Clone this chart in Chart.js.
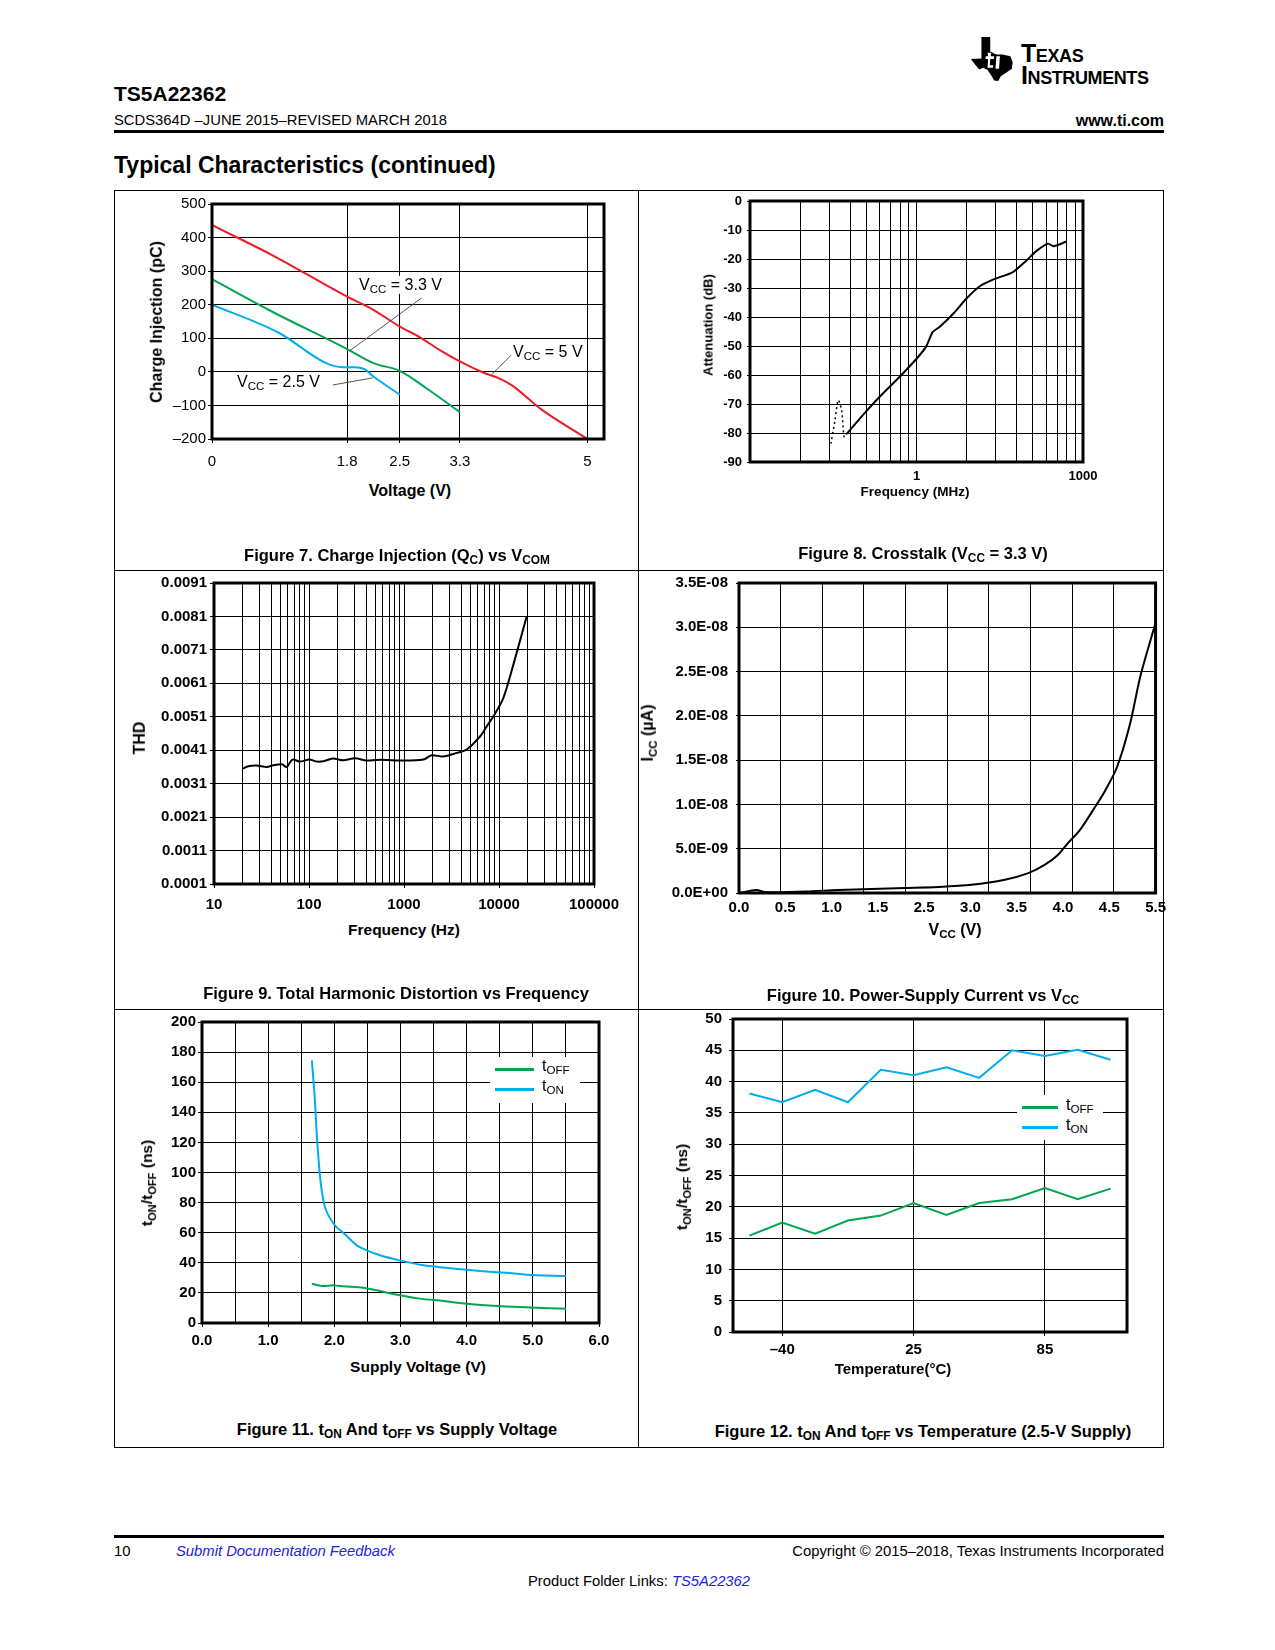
<!DOCTYPE html>
<html><head><meta charset="utf-8">
<script src="https://cdn.jsdelivr.net/npm/chart.js@4.4.1/dist/chart.umd.min.js"></script>
<style>
html,body{margin:0;padding:0;background:#fff}
body{width:1275px;height:1650px;position:relative;overflow:hidden;font-family:"Liberation Sans",Arial,Helvetica,sans-serif;color:#000}
.l{position:absolute;white-space:nowrap;transform:translateY(-50%);line-height:1.15}
.rt{position:absolute;white-space:nowrap;transform:translate(-100%,-50%);line-height:1.15}
.c{position:absolute;white-space:nowrap;transform:translate(-50%,-50%);line-height:1.15}
.v{position:absolute;white-space:nowrap;transform:translate(-50%,-50%) rotate(-90deg);line-height:1.15}
.b{font-weight:bold}
sub{font-size:72%;vertical-align:-0.32em;line-height:0}
canvas{position:absolute}
.ln{position:absolute;background:#000}
.lk{color:#2222dd;font-style:italic}
.top{z-index:5}
.wb{background:#fff;z-index:5}
.logo{font-size:25px;font-variant:small-caps;font-weight:bold;letter-spacing:-0.4px;font-family:"Liberation Sans",Arial,sans-serif}
</style></head><body>

<!-- header -->
<svg style="position:absolute;left:970px;top:36px" width="44" height="46" viewBox="0 0 100 100">
<path d="M26 0 L46 0 L46 33 L58 39 L74 40 L92 44 L97 58 L95 72 L82 81 L70 89 L64 100 L55 99 L48 87 L40 75 L30 70 L21 74 L12 63 L2 50 L26 49 Z" fill="#000"/>
<path d="M40 36 L48 36 L47 44 L55 44 L54 50 L46 50 L45 64 L53 64 L52 70 L40 70 L41 50 L35 50 L36 44 L41 44 Z M60 44 L68 44 L66 72 L58 72 Z M64 30 a5 5 0 1 0 0.1 0 Z" fill="#fff"/>
</svg>
<div class="l logo" style="left:1021px;top:53px">Texas</div>
<div class="l logo" style="left:1021px;top:75px">Instruments</div>
<div class="l b" style="left:114px;top:94px;font-size:21px">TS5A22362</div>
<div class="l" style="left:114px;top:121px;font-size:14.8px">SCDS364D –JUNE 2015–REVISED MARCH 2018</div>
<div class="rt b" style="left:1164px;top:121px;font-size:16px">www.ti.com</div>
<div class="ln" style="left:114px;top:130px;width:1050px;height:3px"></div>
<div class="l b" style="left:114px;top:165px;font-size:23px">Typical Characteristics (continued)</div>

<!-- page grid frame -->
<div class="ln" style="left:114px;top:190px;width:1050px;height:1px"></div>
<div class="ln" style="left:114px;top:1447px;width:1050px;height:1px"></div>
<div class="ln" style="left:114px;top:570px;width:1050px;height:1px"></div>
<div class="ln" style="left:114px;top:1009px;width:1050px;height:1px"></div>
<div class="ln" style="left:114px;top:190px;width:1px;height:1258px"></div>
<div class="ln" style="left:1163px;top:190px;width:1px;height:1258px"></div>
<div class="ln" style="left:638px;top:190px;width:1px;height:1258px"></div>

<canvas id="c7"></canvas><canvas id="c8"></canvas><canvas id="c9"></canvas>
<canvas id="c10"></canvas><canvas id="c11"></canvas><canvas id="c12"></canvas>

<!-- Figure 7 texts -->
<div class="v b" style="left:157px;top:322px;font-size:16px">Charge Injection (pC)</div>
<div class="c b" style="left:410px;top:491px;font-size:16px">Voltage (V)</div>
<div class="l wb" style="left:358px;top:285px;font-size:16px;padding:0 1px">V<sub>CC</sub> = 3.3 V</div>
<div class="l wb" style="left:512px;top:352px;font-size:16px;padding:0 1px">V<sub>CC</sub> = 5 V</div>
<div class="l wb" style="left:236px;top:382px;font-size:16px;padding:0 1px">V<sub>CC</sub> = 2.5 V</div>
<div class="c b" style="left:397px;top:555px;font-size:16.5px">Figure 7. Charge Injection (Q<sub>C</sub>) vs V<sub>COM</sub></div>

<!-- Figure 8 texts -->
<div class="v b" style="left:709px;top:325px;font-size:13px">Attenuation (dB)</div>
<div class="c b" style="left:915px;top:492px;font-size:13.5px">Frequency (MHz)</div>
<div class="c b" style="left:923px;top:553px;font-size:16.5px">Figure 8. Crosstalk (V<sub>CC</sub> = 3.3 V)</div>

<!-- Figure 9 texts -->
<div class="v b" style="left:140px;top:738px;font-size:16px">THD</div>
<div class="c b" style="left:404px;top:930px;font-size:15.5px">Frequency (Hz)</div>
<div class="c b" style="left:396px;top:993px;font-size:16.5px">Figure 9. Total Harmonic Distortion vs Frequency</div>

<!-- Figure 10 texts -->
<div class="v b" style="left:648px;top:733px;font-size:16px">I<sub>CC</sub> (µA)</div>
<div class="c b" style="left:955px;top:930px;font-size:16px">V<sub>CC</sub> (V)</div>
<div class="c b" style="left:923px;top:995px;font-size:16.5px">Figure 10. Power-Supply Current vs V<sub>CC</sub></div>

<!-- Figure 11 texts -->
<div class="v b" style="left:147px;top:1183px;font-size:15.5px">t<sub>ON</sub>/t<sub>OFF</sub> (ns)</div>
<div class="c b" style="left:418px;top:1367px;font-size:15.5px">Supply Voltage (V)</div>
<div class="c b" style="left:397px;top:1429px;font-size:16.5px">Figure 11. t<sub>ON</sub> And t<sub>OFF</sub> vs Supply Voltage</div>
<div class="wb" style="position:absolute;left:490px;top:1057px;width:90px;height:46px"></div>
<div class="ln top" style="left:495px;top:1068px;width:39px;height:2.5px;background:#00a651"></div>
<div class="ln top" style="left:495px;top:1088px;width:39px;height:2.5px;background:#00aeef"></div>
<div class="l top" style="left:542px;top:1066px;font-size:16px">t<sub>OFF</sub></div>
<div class="l top" style="left:542px;top:1086px;font-size:16px">t<sub>ON</sub></div>

<!-- Figure 12 texts -->
<div class="v b" style="left:682px;top:1187px;font-size:15.5px">t<sub>ON</sub>/t<sub>OFF</sub> (ns)</div>
<div class="c b" style="left:893px;top:1369px;font-size:15px">Temperature(°C)</div>
<div class="c b" style="left:923px;top:1431px;font-size:16.5px">Figure 12. t<sub>ON</sub> And t<sub>OFF</sub> vs Temperature (2.5-V Supply)</div>
<div class="wb" style="position:absolute;left:1017px;top:1095px;width:86px;height:45px"></div>
<div class="ln top" style="left:1022px;top:1106px;width:36px;height:2.5px;background:#00a651"></div>
<div class="ln top" style="left:1022px;top:1126px;width:36px;height:2.5px;background:#00aeef"></div>
<div class="l top" style="left:1066px;top:1105px;font-size:16px">t<sub>OFF</sub></div>
<div class="l top" style="left:1066px;top:1125px;font-size:16px">t<sub>ON</sub></div>

<!-- footer -->
<div class="ln" style="left:114px;top:1535px;width:1050px;height:3px"></div>
<div class="l" style="left:114px;top:1552px;font-size:14.8px">10</div>
<div class="l lk" style="left:176px;top:1552px;font-size:14.8px">Submit Documentation Feedback</div>
<div class="rt" style="left:1164px;top:1552px;font-size:14.8px">Copyright © 2015–2018, Texas Instruments Incorporated</div>
<div class="c" style="left:639px;top:1582px;font-size:14.8px">Product Folder Links: <span class="lk">TS5A22362</span></div>

<script>
// ---------- DATA ----------
// Figure 7: charge injection (pC) vs VCOM (V)
const qcXTicks = [0, 1.8, 2.5, 3.3, 5];
const qcYTicks = [-200, -100, 0, 100, 200, 300, 400, 500];
const qc5V  = [0, 0.80, 1.80, 2.11, 2.50, 2.77, 3.04, 3.30, 3.61, 3.83, 4.00, 4.38, 5.00];
const qc5Q  = [437, 348, 224, 190, 135, 103, 64, 31, -2, -20, -41, -111, -200];
const qc33V = [0, 0.75, 1.80, 2.15, 2.50, 2.85, 3.30];
const qc33Q = [276, 185, 68, 26, 3, -48, -120];
const qc25V = [0, 0.90, 1.52, 1.74, 1.90, 2.03, 2.15, 2.50];
const qc25Q = [200, 115, 26, 14, 14, 8, -14, -68];

// Figure 8: crosstalk (dB) vs frequency
const xtGrid = [0.1,0.2,0.3,0.4,0.5,0.6,0.7,0.8,0.9,1,2,3,4,5,6,7,8,9,10];
const xtTickVals = [1, 10];
const xtTickText = ['1', '1000'];
const xtYTicks = [-90,-80,-70,-60,-50,-40,-30,-20,-10,0];
const xtDotF  = [0.306, 0.324, 0.339, 0.355, 0.368, 0.382];
const xtDotDb = [-83.7, -75.6, -68.7, -72.2, -81.4, -80.2];
const xtF  = [0.382, 0.475, 0.599, 0.790, 1.0, 1.14, 1.25, 1.38, 1.66, 1.99, 2.40, 2.88, 3.80, 4.58, 5.26, 6.18, 6.63, 7.27, 8.0];
const xtDb = [-80.2, -73.9, -67.6, -60.7, -54.4, -50.3, -45.2, -43.4, -38.9, -33.7, -29.4, -27.1, -24.5, -20.5, -17.2, -14.7, -15.6, -14.9, -13.9];

// Figure 9: THD vs frequency (Hz)
const thdGrid = [10,20,30,40,50,60,70,80,90,100,200,300,400,500,600,700,800,900,1000,2000,3000,4000,5000,6000,7000,8000,9000,10000,20000,30000,40000,50000,60000,70000,80000,90000,100000];
const thdLabels = [10, 100, 1000, 10000, 100000];
const thdYTicks = [0.0001,0.0011,0.0021,0.0031,0.0041,0.0051,0.0061,0.0071,0.0081,0.0091];
const thdF = [20, 23, 28, 36, 42, 52, 58, 67, 80, 101, 121, 142, 178, 230, 305, 404, 515, 657, 907, 1600, 1955, 2594, 3581, 4567, 6306, 7413, 8710, 11100, 14170, 19560];
const thdV = [0.00355, 0.00362, 0.00364, 0.00360, 0.00365, 0.00368, 0.00360, 0.00382, 0.00376, 0.00382, 0.00376, 0.00377, 0.00385, 0.00380, 0.00386, 0.00379, 0.00381, 0.00381, 0.00379, 0.00382, 0.00395, 0.00391, 0.00402, 0.00412, 0.00451, 0.00481, 0.00511, 0.00566, 0.00666, 0.00810];

// Figure 10: ICC vs VCC
const iccGrid = [0, 0.55, 1.1, 1.65, 2.2, 2.75, 3.3, 3.85, 4.4, 4.95, 5.5];
const iccLabelPos = [0, 0.611, 1.222, 1.833, 2.444, 3.056, 3.667, 4.278, 4.889, 5.5];
const iccTickText = ['0.0','0.5','1.0','1.5','2.5','3.0','3.5','4.0','4.5','5.5'];
const iccYTicks = [0, 5e-9, 1e-8, 1.5e-8, 2e-8, 2.5e-8, 3e-8, 3.5e-8];
const iccV = [0, 0.23, 0.34, 0.87, 1.31, 1.75, 2.19, 2.63, 3.07, 3.51, 3.82, 4.04, 4.21, 4.34, 4.50, 4.67, 4.83, 4.99, 5.16, 5.30, 5.50];
const iccA = [0, 3.4e-10, 1.0e-10, 1.8e-10, 3.4e-10, 4.5e-10, 5.6e-10, 6.8e-10, 9.3e-10, 1.5e-9, 2.25e-9, 3.2e-9, 4.3e-9, 5.6e-9, 7.1e-9, 9.3e-9, 1.15e-8, 1.42e-8, 1.9e-8, 2.45e-8, 3.05e-8];

// Figure 11: tON / tOFF vs supply voltage
const svGrid = [0,0.5,1,1.5,2,2.5,3,3.5,4,4.5,5,5.5,6];
const svLabels = [0,1,2,3,4,5,6];
const svYTicks = [0,20,40,60,80,100,120,140,160,180,200];
const tonV   = [1.66, 1.70, 1.74, 1.79, 1.85, 1.91, 2.01, 2.16, 2.34, 2.49, 2.69, 2.99, 3.35, 3.65, 4.00, 4.40, 4.65, 4.90, 5.50];
const tonNs  = [174.5, 152.4, 121.4, 94.8, 78.2, 71.5, 64.9, 58.9, 51.6, 48.3, 45.0, 41.6, 38.3, 36.8, 35.4, 33.9, 33.2, 32.1, 31.2];
const toffV  = [1.66, 1.81, 1.99, 2.14, 2.44, 2.64, 2.99, 3.29, 3.65, 4.00, 4.40, 4.80, 5.50];
const toffNs = [26.1, 24.6, 25.0, 24.4, 23.5, 21.7, 18.4, 16.2, 14.6, 12.8, 11.5, 10.6, 9.5];

// Figure 12: tON / tOFF vs temperature
const tempC = ['-55','-40','-25','-10','5','25','40','55','70','85','100','115'];
const tempShown = ['-40','25','85'];
const tempYTicks = [0,5,10,15,20,25,30,35,40,45,50];
const tonT  = [38.1, 36.7, 38.7, 36.7, 41.9, 41.0, 42.3, 40.6, 45.0, 44.1, 45.1, 43.5];
const toffT = [15.4, 17.5, 15.7, 17.8, 18.6, 20.6, 18.7, 20.6, 21.2, 23.0, 21.2, 22.9];

// annotation leader lines for Figure 7 (data units: [x1,y1,x2,y2])
const qcLeaders = [[2.79, 220, 1.83, 62], [3.985, 50, 3.72, -9], [1.61, -39, 2.14, -18]];

// ---------- STYLE / HELPERS ----------
const RED = '#ed1c24', GREEN = '#00a651', BLUE = '#00aeef';
Chart.defaults.font.family = "'Liberation Sans', Arial, Helvetica, sans-serif";
Chart.defaults.color = '#000';
Chart.defaults.animation = false;
Chart.defaults.plugins.legend.display = false;
Chart.defaults.plugins.tooltip.enabled = false;
Chart.defaults.elements.point.radius = 0;
Chart.defaults.elements.line.borderWidth = 2;

const framePlugin = {
  id: 'frame',
  afterDatasetsDraw(chart, args, opts) {
    if (!opts || !opts.width) return;
    const {ctx, chartArea: a} = chart;
    ctx.save(); ctx.lineWidth = opts.width; ctx.strokeStyle = '#000';
    ctx.strokeRect(a.left, a.top, a.right - a.left, a.bottom - a.top);
    ctx.restore();
  }
};
const leaderPlugin = {
  id: 'leaders',
  afterDatasetsDraw(chart, args, opts) {
    if (!opts || !opts.lines) return;
    const {ctx, scales: {x, y}} = chart;
    ctx.save(); ctx.lineWidth = 1; ctx.strokeStyle = '#555';
    opts.lines.forEach(([x1, y1, x2, y2]) => {
      ctx.beginPath();
      ctx.moveTo(x.getPixelForValue(x1), y.getPixelForValue(y1));
      ctx.lineTo(x.getPixelForValue(x2), y.getPixelForValue(y2));
      ctx.stroke();
    });
    ctx.restore();
  }
};
Chart.register(framePlugin, leaderPlugin);

const xy = (xs, ys) => xs.map((v, i) => ({x: v, y: ys[i]}));
const setTicks = arr => s => { s.ticks = arr.map(v => ({value: v})); };
const near = (a, b) => Math.abs(a - b) <= Math.abs(b) * 1e-6 + 1e-12;

function mk(id, rect, pad, config) {
  const cv = document.getElementById(id);
  const w = rect.r - rect.l + pad.l + pad.r, h = rect.b - rect.t + pad.t + pad.b;
  cv.width = w; cv.height = h;
  cv.style.left = (rect.l - pad.l) + 'px'; cv.style.top = (rect.t - pad.t) + 'px';
  cv.style.width = w + 'px'; cv.style.height = h + 'px';
  const o = config.options;
  o.responsive = false;
  o.maintainAspectRatio = false;
  o.layout = {padding: {top: pad.t, right: pad.r, left: 0, bottom: 0}};
  Object.entries(o.scales).forEach(([k, s]) => {
    s.border = {display: false};
    if (!s.afterFit) s.afterFit = k.startsWith('x') ? (sc => { sc.height = pad.b; }) : (sc => { sc.width = pad.l; });
  });
  return new Chart(cv, config);
}
const fmtE = v => {
  const [m, e] = v.toExponential(1).split('e');
  const n = parseInt(e, 10);
  return m + 'E' + (n < 0 ? '-' : '+') + String(Math.abs(n)).padStart(2, '0');
};
const B = s => ({size: s, weight: 'bold'});
const PT = 26;

// ---------- Figure 7 ----------
mk('c7', {l: 212, t: 204, r: 604, b: 439}, {l: 80, t: PT, r: 30, b: 40}, {
  type: 'line',
  data: {datasets: [
    {data: xy(qc5V, qc5Q), borderColor: RED, cubicInterpolationMode: 'monotone'},
    {data: xy(qc33V, qc33Q), borderColor: GREEN, cubicInterpolationMode: 'monotone'},
    {data: xy(qc25V, qc25Q), borderColor: BLUE, cubicInterpolationMode: 'monotone'}
  ]},
  options: {
    scales: {
      x: {type: 'linear', min: 0, max: 5.22, afterBuildTicks: setTicks(qcXTicks),
          ticks: {font: {size: 15}, padding: 10, autoSkip: false, maxRotation: 0, callback: v => String(v)},
          grid: {color: '#000', tickLength: 4, tickColor: '#000'}},
      y: {type: 'linear', min: -200, max: 500, afterBuildTicks: setTicks(qcYTicks),
          ticks: {font: {size: 15}, padding: 2, autoSkip: false, callback: v => v < 0 ? '\u2013' + Math.abs(v) : String(v)},
          grid: {color: '#000', tickLength: 4, tickColor: '#000'}}
    },
    plugins: {frame: {width: 3}, leaders: {lines: qcLeaders}}
  }
});

// ---------- Figure 8 ----------
mk('c8', {l: 750, t: 201, r: 1083, b: 462}, {l: 60, t: PT, r: 40, b: 30}, {
  type: 'line',
  data: {datasets: [
    {data: xy(xtDotF, xtDotDb), borderColor: '#000', borderWidth: 1.5, borderDash: [2, 3], tension: 0.3},
    {data: xy(xtF, xtDb), borderColor: '#000', borderWidth: 2, tension: 0.2}
  ]},
  options: {
    scales: {
      x: {type: 'logarithmic', min: 0.1, max: 10, afterBuildTicks: setTicks(xtGrid),
          ticks: {font: B(13), padding: 7, autoSkip: false, maxRotation: 0,
                  callback: v => { const i = xtTickVals.findIndex(t => near(v, t)); return i >= 0 ? xtTickText[i] : ''; }},
          grid: {color: '#000', drawTicks: false}},
      y: {type: 'linear', min: -90, max: 0, afterBuildTicks: setTicks(xtYTicks),
          ticks: {font: B(13), padding: 5, autoSkip: false, callback: v => String(v)},
          grid: {color: '#000', tickLength: 3, tickColor: '#000'}}
    },
    plugins: {frame: {width: 3}}
  }
});

// ---------- Figure 9 ----------
mk('c9', {l: 214, t: 583, r: 594, b: 884}, {l: 90, t: PT, r: 40, b: 32}, {
  type: 'line',
  data: {datasets: [
    {data: xy(thdF, thdV), borderColor: '#000', borderWidth: 2, tension: 0.3}
  ]},
  options: {
    scales: {
      x: {type: 'logarithmic', min: 10, max: 100000, afterBuildTicks: setTicks(thdGrid),
          ticks: {font: B(15), padding: 8, autoSkip: false, maxRotation: 0,
                  callback: v => thdLabels.some(t => near(v, t)) ? String(v) : ''},
          grid: {color: '#000', tickLength: 4,
                 tickColor: c => (c.tick && thdLabels.some(t => near(c.tick.value, t))) ? '#000' : 'rgba(0,0,0,0)'}},
      y: {type: 'linear', min: 0.0001, max: 0.0091, afterBuildTicks: setTicks(thdYTicks),
          ticks: {font: B(15), padding: 3, autoSkip: false, callback: v => v.toFixed(4)},
          grid: {color: '#000', tickLength: 4, tickColor: '#000'}}
    },
    plugins: {frame: {width: 3}}
  }
});

// ---------- Figure 10 ----------
mk('c10', {l: 739, t: 583, r: 1156, b: 893}, {l: 85, t: PT, r: 16, b: 32}, {
  type: 'line',
  data: {datasets: [
    {data: xy(iccV, iccA), borderColor: '#000', borderWidth: 2, tension: 0.3, xAxisID: 'x'}
  ]},
  options: {
    scales: {
      x: {type: 'linear', position: 'bottom', min: 0, max: 5.5, afterBuildTicks: setTicks(iccGrid),
          afterFit: s => { s.height = 0; },
          ticks: {display: false},
          grid: {color: '#000', drawTicks: false}},
      x2: {type: 'linear', position: 'bottom', min: 0, max: 5.5, afterBuildTicks: setTicks(iccLabelPos),
          ticks: {font: B(15), padding: 6, autoSkip: false, maxRotation: 0,
                  callback: (v, i) => iccTickText[i] ?? ''},
          grid: {display: false, drawTicks: false}},
      y: {type: 'linear', min: 0, max: 3.5e-8, afterBuildTicks: setTicks(iccYTicks),
          ticks: {font: B(15), padding: 8, autoSkip: false, callback: v => fmtE(v)},
          grid: {color: '#000', tickLength: 3, tickColor: '#000'}}
    },
    plugins: {frame: {width: 3}}
  }
});

// ---------- Figure 11 ----------
mk('c11', {l: 202, t: 1022, r: 599, b: 1323}, {l: 70, t: PT, r: 30, b: 32}, {
  type: 'line',
  data: {datasets: [
    {data: xy(toffV, toffNs), borderColor: GREEN, borderWidth: 2, tension: 0.3},
    {data: xy(tonV, tonNs), borderColor: BLUE, borderWidth: 2, tension: 0.3}
  ]},
  options: {
    scales: {
      x: {type: 'linear', min: 0, max: 6, afterBuildTicks: setTicks(svGrid),
          ticks: {font: B(15), padding: 5, autoSkip: false, maxRotation: 0,
                  callback: v => svLabels.some(t => near(v, t)) ? v.toFixed(1) : ''},
          grid: {color: '#000', tickLength: 4,
                 tickColor: c => (c.tick && svLabels.some(t => near(c.tick.value, t))) ? '#000' : 'rgba(0,0,0,0)'}},
      y: {type: 'linear', min: 0, max: 200, afterBuildTicks: setTicks(svYTicks),
          ticks: {font: B(15), padding: 2, autoSkip: false, callback: v => String(v)},
          grid: {color: '#000', tickLength: 4, tickColor: '#000'}}
    },
    plugins: {frame: {width: 3}}
  }
});

// ---------- Figure 12 ----------
const shownIdx = tempC.map((t, i) => tempShown.includes(t) ? i : -1).filter(i => i >= 0);
mk('c12', {l: 733, t: 1019, r: 1127, b: 1332}, {l: 60, t: PT, r: 30, b: 32}, {
  type: 'line',
  data: {labels: tempC, datasets: [
    {data: toffT, borderColor: GREEN, borderWidth: 2, tension: 0},
    {data: tonT, borderColor: BLUE, borderWidth: 2, tension: 0}
  ]},
  options: {
    scales: {
      x: {type: 'category', offset: true,
          ticks: {font: B(15), padding: 5, autoSkip: false, maxRotation: 0,
                  callback: (v, i) => shownIdx.includes(i) ? tempC[i].replace('-', '\u2013') : ''},
          grid: {offset: false, tickLength: 4,
                 color: c => shownIdx.includes(c.index) ? '#000' : 'rgba(0,0,0,0)',
                 tickColor: c => shownIdx.includes(c.index) ? '#000' : 'rgba(0,0,0,0)'}},
      y: {type: 'linear', min: 0, max: 50, afterBuildTicks: setTicks(tempYTicks),
          ticks: {font: B(15), padding: 7, autoSkip: false, callback: v => String(v)},
          grid: {color: '#000', tickLength: 4, tickColor: '#000'}}
    },
    plugins: {frame: {width: 3}}
  }
});
</script>
</body></html>
